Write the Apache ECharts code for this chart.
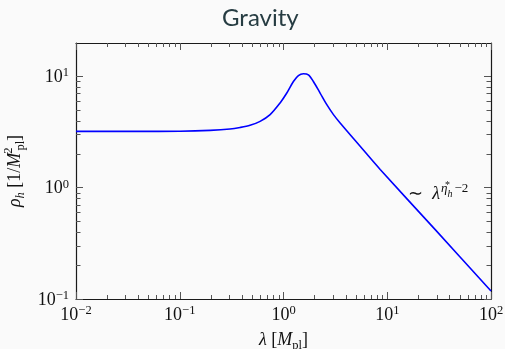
<!DOCTYPE html>
<html>
<head>
<meta charset="utf-8">
<script src="https://cdn.jsdelivr.net/npm/echarts@6/dist/echarts.min.js"></script>
<style>
  html, body { margin: 0; padding: 0; background: #fafafa; }
  #chart { width: 505px; height: 349px; }
</style>
</head>
<body>
<div id="chart"></div>
<script>
// Energy density of the gravity sector against the scale lambda (log-log)
const lambda = [0.01, 0.05, 0.1, 0.196, 0.305, 0.382, 0.476, 0.595, 0.743, 0.927, 1.076, 1.246, 1.392, 1.556, 1.738, 1.941, 2.254, 2.615, 3.03, 3.515, 5.48, 8.55, 29, 100];
const rho    = [3.21, 3.21, 3.22, 3.28, 3.37, 3.48, 3.64, 3.95, 4.54, 5.78, 7.10, 9.02, 10.2, 10.57, 10.35, 9.02, 7.10, 5.58, 4.54, 3.82, 2.36, 1.46, 0.42, 0.118];

// Axis ranges and decade tick marks
const xRange = [0.01, 100];
const yRange = [0.1, 20];
const xTicks = [0.01, 0.1, 1, 10, 100];
const yTicks = [0.1, 1, 10];

// Power-law annotation anchor (data coordinates)
const noteAt = [31, 0.9];

const SERIF = 'Liberation Serif';
const INK = '#111';

function minorOf(decades, max) {
  const out = [];
  decades.forEach(d => {
    for (let k = 2; k <= 9; k++) {
      const v = +(d * k).toPrecision(3);
      if (v < max) out.push(v);
    }
  });
  return out;
}

const powRich = {
  b: { fontFamily: SERIF, fontSize: 18, color: INK, verticalAlign: 'bottom', padding: [0, 0, 0, 0] },
  s: { fontFamily: SERIF, fontSize: 12.5, color: INK, verticalAlign: 'bottom', padding: [0, 0, 7, 0] }
};
function powLabel(v) {
  const e = Math.round(Math.log10(v));
  return '{b|10}{s|' + (e < 0 ? '\u2212' + (-e) : e) + '}';
}

const mathRich = {
  i: { fontFamily: SERIF, fontStyle: 'italic', fontSize: 18, color: INK, verticalAlign: 'bottom', padding: [0, 0, 3, 0] },
  r: { fontFamily: SERIF, fontSize: 18, color: INK, verticalAlign: 'bottom', padding: [0, 0, 3, 0] },
  sb: { fontFamily: SERIF, fontStyle: 'italic', fontSize: 12.5, color: INK, verticalAlign: 'bottom', padding: [0, 0, 0, 0] },
  sbr: { fontFamily: SERIF, fontSize: 12.5, color: INK, verticalAlign: 'bottom', padding: [0, 0, 0, 0] },
  sp: { fontFamily: SERIF, fontSize: 12.5, color: INK, verticalAlign: 'bottom', padding: [0, 0, 12, 2], width: 0.1, align: 'left' }
};

const frame = { color: '#1a1a1a', width: 1.2 };
const tickColor = '#555';

function xAxisOf(position, ticks, len, withLine, withLabel) {
  return {
    type: 'log', logBase: 10, min: xRange[0], max: xRange[1], position: position,
    axisLine: { show: withLine, onZero: false, lineStyle: frame },
    axisTick: { show: true, inside: true, length: len, customValues: ticks, lineStyle: { color: tickColor, width: 1 } },
    axisLabel: withLabel
      ? { show: true, customValues: xTicks, margin: 5, formatter: powLabel, rich: powRich }
      : { show: false },
    splitLine: { show: false },
    minorTick: { show: false },
    name: withLabel ? '{i|\u03bb}{r| [}{i|M}{sbr|pl}{r|]}' : '',
    nameLocation: 'middle', nameGap: 32,
    nameTextStyle: { rich: mathRich }
  };
}

function yAxisOf(position, ticks, len, withLine, withLabel) {
  return {
    type: 'log', logBase: 10, min: yRange[0], max: yRange[1], position: position,
    axisLine: { show: withLine, onZero: false, lineStyle: frame },
    axisTick: { show: true, inside: true, length: len, customValues: ticks, lineStyle: { color: tickColor, width: 1 } },
    axisLabel: withLabel
      ? { show: true, customValues: yTicks, margin: 7, formatter: powLabel, rich: powRich }
      : { show: false },
    splitLine: { show: false },
    minorTick: { show: false },
    name: withLabel ? '{i|\u03c1}{sb|h}{r| [1/}{i|M}{sp|2}{sbr|pl}{r|]}' : '',
    nameLocation: 'middle', nameGap: 44,
    nameTextStyle: { rich: mathRich }
  };
}

const xMinor = minorOf(xTicks.slice(0, -1), xRange[1]);
const yMinor = minorOf(yTicks, yRange[1]);

const chart = echarts.init(document.getElementById('chart'), null, { renderer: 'canvas' });
chart.setOption({
  backgroundColor: '#fafafa',
  animation: false,
  title: {
    text: 'Gravity', left: 217, top: 1,
    textStyle: { fontFamily: 'Lato', fontWeight: 'normal', fontSize: 24, color: '#263c42' }
  },
  grid: { left: 76, right: 14, top: 43, bottom: 50, containLabel: false, outerBoundsMode: 'none' },
  xAxis: [
    xAxisOf('bottom', xTicks, 7, true, true),
    xAxisOf('bottom', xMinor, 4, false, false),
    xAxisOf('top', xTicks, 7, true, false),
    xAxisOf('top', xMinor, 4, false, false)
  ],
  yAxis: [
    yAxisOf('left', yTicks, 7, true, true),
    yAxisOf('left', yMinor, 4.5, false, false),
    yAxisOf('right', yTicks, 7, true, false),
    yAxisOf('right', yMinor, 4.5, false, false)
  ],
  series: [{
    type: 'line',
    xAxisIndex: 0, yAxisIndex: 0,
    data: lambda.map((x, i) => [x, rho[i]]),
    showSymbol: false,
    smooth: 0.3,
    lineStyle: { color: '#0000ff', width: 1.6 },
    markPoint: {
      symbol: 'circle', symbolSize: 0, silent: true,
      data: [{
        coord: noteAt,
        label: {
          show: true, position: 'inside',
          formatter: '{r|\u223c  }{i|\u03bb}{e|\u03b7}{st|*}{h|h}{m|\u22122}',
          rich: {
            r: { fontFamily: SERIF, fontSize: 18, color: INK, verticalAlign: 'bottom', padding: [0, 0, 2, 0] },
            i: { fontFamily: SERIF, fontStyle: 'italic', fontSize: 18, color: INK, verticalAlign: 'bottom', padding: [0, 0, 2, 0] },
            e: { fontFamily: SERIF, fontStyle: 'italic', fontSize: 13, color: INK, verticalAlign: 'bottom', padding: [0, 0, 10, 1] },
            st: { fontFamily: SERIF, fontSize: 10, color: INK, verticalAlign: 'bottom', padding: [0, 0, 15, 0], width: 0.1, align: 'left' },
            h: { fontFamily: SERIF, fontStyle: 'italic', fontSize: 10, color: INK, verticalAlign: 'bottom', padding: [0, 2, 6, 0] },
            m: { fontFamily: SERIF, fontSize: 13, color: INK, verticalAlign: 'bottom', padding: [0, 0, 10, 0] }
          }
        }
      }]
    }
  }]
});
</script>
</body>
</html>
